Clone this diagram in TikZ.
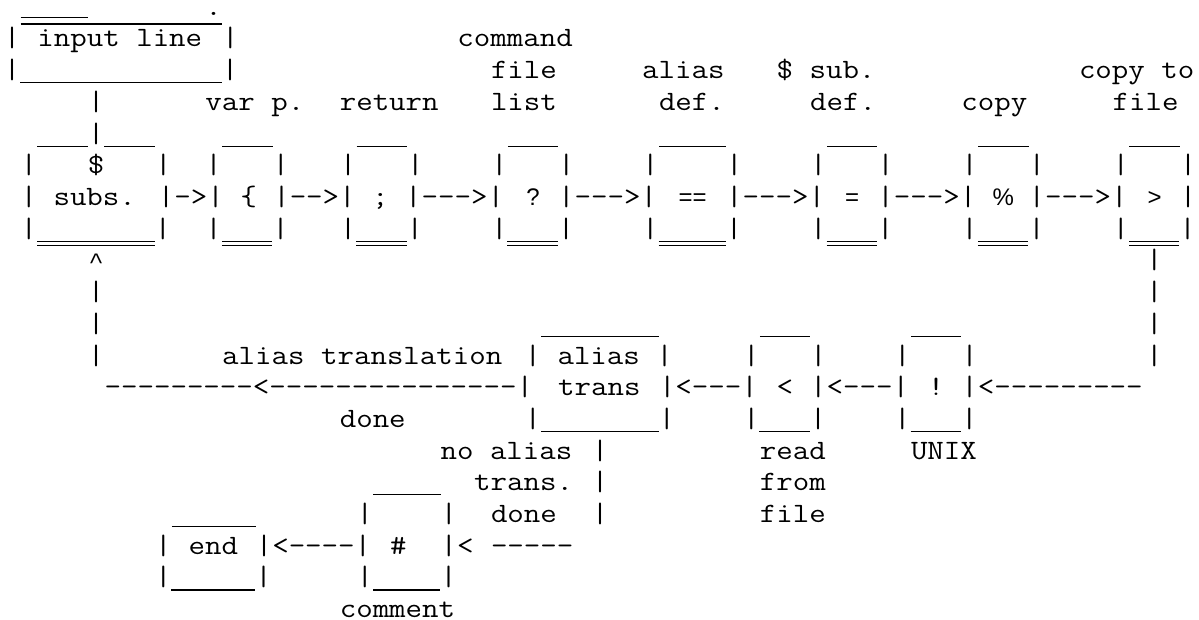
\documentclass[tikz,border=0pt]{standalone}
\usepackage{fontspec}
\usepackage{graphicx}
\newfontfamily\arialf{Liberation Sans}
\newfontfamily\lmonof{Liberation Mono}
\newcount\fragno
\tikzset{
  txt/.style={anchor=base west, inner sep=0pt, outer sep=0pt,
    font=\ttfamily\fontsize{28}{30}\selectfont},
  sym/.style={anchor=base, inner sep=0pt, outer sep=0pt,
    font=\arialf\fontsize{24}{28}\selectfont}
}
% place text starting at character column #1 on text row #2
\newcommand\T[3]{\global\advance\fragno by 1\relax
  \node[txt] (t\the\fragno) at ({3.8+16.8*(#1)},{15.3+31.7*((#2)-1)}) {\scalebox{1.1429}[1]{#3}};}
% place a proportional (sans) symbol centred at column position #1
\newcommand\Sy[3]{\global\advance\fragno by 1\relax
  \node[sym] (t\the\fragno) at ({3.8+16.8*(#1)},{15.3+31.7*((#2)-1)}) {#3};}
% a run of #1 underscores (continuous, as in Courier)
\newcommand\U[1]{\rule[-4.6pt]{\dimexpr 0.525em*#1\relax}{1.1pt}}
% a run of #1 doubled underscores
\newcommand\UU[1]{\rule[-5pt]{\dimexpr 0.525em*#1\relax}{1.0pt}\llap{\rule[-9.1pt]{\dimexpr 0.525em*#1\relax}{1.7pt}}}
\newcommand\D[1]{\foreach\k in {1,...,#1}{-}}
\begin{document}
\begin{tikzpicture}[x=1pt,y=-1pt]
\fill[white] (0,0) rectangle (1199,620);
\useasboundingbox (0,0) rectangle (1199,620);
% row 1
\T{1}{1}{\rule[-2.6pt]{\dimexpr 0.525em*4\relax}{1.1pt}}
\T{1}{1}{\rule[-9.6pt]{\dimexpr 0.525em*12\relax}{2pt}}
\T{12}{1}{.}
% row 2
\T{0}{2}{|}
\T{2}{2}{input line}
\T{13}{2}{|}
\T{27}{2}{command}
% row 3
\T{0}{3}{|\U{12}|}
\T{29}{3}{file}
\T{38}{3}{alias}
\T{46}{3}{\$ sub.}
\T{64}{3}{copy to}
% row 4
\T{5}{4}{|}
\T{12}{4}{var p.}
\T{20}{4}{return}
\T{29}{4}{list}
\T{39}{4}{def.}
\T{48}{4}{def.}
\T{57}{4}{copy}
\T{66}{4}{file}
% row 5
\T{2}{5}{\U{3}|\U{3}}
\T{13}{5}{\U{3}}
\T{21}{5}{\U{3}}
\T{30}{5}{\U{3}}
\T{39}{5}{\U{4}}
\T{49}{5}{\U{3}}
\T{58}{5}{\U{3}}
\T{67}{5}{\U{3}}
% row 6
\foreach \c in {1,9,12,16,20,24,29,33,38,43,48,52,57,61,66,70}{\T{\c}{6}{|}}
\T{5}{6}{\$}
% row 7
\T{1}{7}{| subs. |->| \{ |-{}->| ; |\D{3}>|}
\Sy{31.5}{7}{?}
\T{33}{7}{|\D{3}>|}
\Sy{41}{7}{==}
\T{43}{7}{|\D{3}>|}
\Sy{50.5}{7}{=}
\T{52}{7}{|\D{3}>|}
\Sy{59.5}{7}{\%}
\T{61}{7}{|\D{3}>|}
\Sy{68.5}{7}{>}
\T{70}{7}{|}
% row 8
\T{1}{8}{|\UU{7}|}
\T{12}{8}{|\UU{3}|}
\T{20}{8}{|\UU{3}|}
\T{29}{8}{|\UU{3}|}
\T{38}{8}{|\UU{4}|}
\T{48}{8}{|\UU{3}|}
\T{57}{8}{|\UU{3}|}
\T{66}{8}{|\UU{3}|}
% rows 9-11
\T{5}{9}{\makebox[0.525em][c]{\lmonof\fontsize{22}{24}\selectfont\textasciicircum}}
\T{68}{9}{|}
\T{5}{10}{|}
\T{68}{10}{|}
\T{5}{11}{|}
\T{32}{11}{\U{7}}
\T{45}{11}{\U{3}}
\T{54}{11}{\U{3}}
\T{68}{11}{|}
% row 12
\T{5}{12}{|}
\T{13}{12}{alias translation}
\T{31}{12}{| alias |}
\T{44}{12}{|}
\T{48}{12}{|}
\T{53}{12}{|}
\T{57}{12}{|}
\T{68}{12}{|}
% row 13
\T{6}{13}{\D{9}<\D{15}|}
\T{33}{13}{trans}
\T{39}{13}{|<\D{3}|}
\T{46}{13}{<}
\T{48}{13}{|<\D{3}|}
\T{55}{13}{!}
\T{57}{13}{|<\D{9}}
% row 14
\T{20}{14}{done}
\T{31}{14}{|\U{7}|}
\T{44}{14}{|\U{3}|}
\T{53}{14}{|\U{3}|}
% row 15
\T{26}{15}{no alias}
\T{35}{15}{|}
\T{45}{15}{read}
\T{54}{15}{UNIX}
% row 16
\T{22}{16}{\U{4}}
\T{28}{16}{trans.}
\T{35}{16}{|}
\T{45}{16}{from}
% row 17
\T{10}{17}{\U{5}}
\T{21}{17}{|}
\T{26}{17}{|}
\T{29}{17}{done}
\T{35}{17}{|}
\T{45}{17}{file}
% row 18
\T{9}{18}{|}
\T{11}{18}{end}
\T{15}{18}{|<\D{4}|}
\T{23}{18}{\#}
\T{26}{18}{|<}
\T{29}{18}{\D{5}}
% row 19
\T{9}{19}{|\U{5}|}
\T{21}{19}{|\U{4}|}
% row 20
\T{20}{20}{comment}
\end{tikzpicture}
\end{document}
